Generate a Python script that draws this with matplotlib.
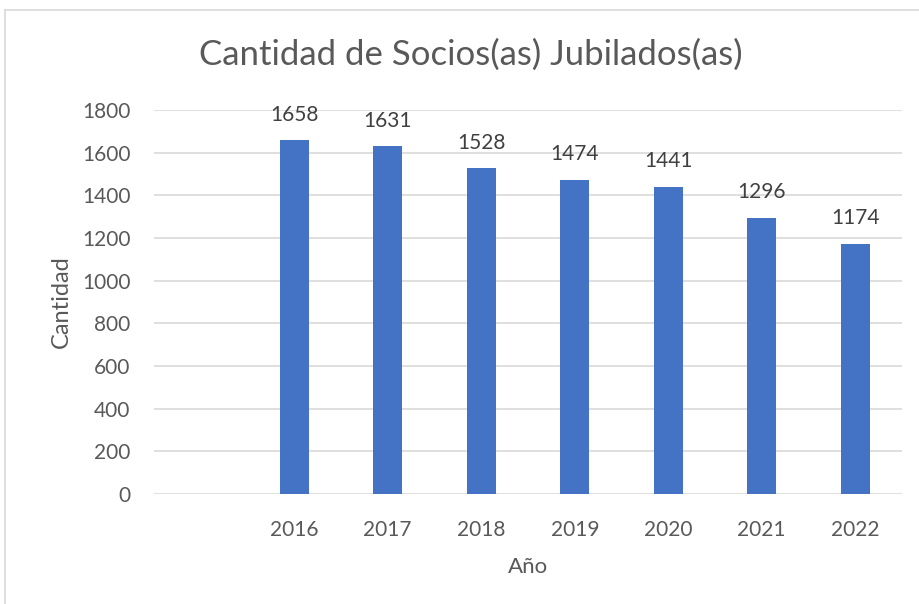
import numpy as np
import matplotlib.pyplot as plt
from matplotlib.lines import Line2D

# ---------------------------------- datos ----------------------------------
anios = ['', '2016', '2017', '2018', '2019', '2020', '2021', '2022']
socios = [None, 1658, 1631, 1528, 1474, 1441, 1296, 1174]
yticks = [0, 200, 400, 600, 800, 1000, 1200, 1400, 1600, 1800]

azul = '#4472C4'
gris = '#595959'
plt.rcParams['font.family'] = ['Lato', 'DejaVu Sans']

fig = plt.figure(figsize=(9.19, 6.04), dpi=100)
ax = fig.add_axes([154/919, 1-494/604, 748/919, 384/604])

x = np.arange(len(anios))
h = [0 if v is None else v for v in socios]
barras = ax.bar(x, h, width=0.31, color=azul, zorder=3)
for xi, v in zip(x, socios):
    if v is not None:
        ax.annotate(str(v), (xi, v), xytext=(0, 11), textcoords='offset points',
                    ha='center', va='bottom', fontsize=15, color='#404040')

ax.set_xlim(-0.5, len(anios)-0.5)
ax.set_ylim(0, 1800)
ax.set_yticks(yticks)
ax.set_xticks(x)
ax.set_xticklabels(anios)
ax.tick_params(axis='both', length=0, labelsize=15, labelcolor=gris)
ax.tick_params(axis='x', pad=19)
ax.tick_params(axis='y', pad=17)
ax.grid(axis='y', color='#D9D9D9', lw=1.2, zorder=0)
for s in ax.spines.values():
    s.set_visible(False)

ax.set_xlabel('Año', fontsize=16, color=gris, labelpad=12)
ax.set_ylabel('Cantidad', fontsize=17, color=gris, labelpad=7)
fig.text(0.512, 1-55/604, 'Cantidad de Socios(as) Jubilados(as)', ha='center', va='center',
         fontsize=25, color=gris)

# marco del grafico
fig.add_artist(Line2D([5/919, 5/919], [0, 1-10/604], color='#D9D9D9', lw=1.2))
fig.add_artist(Line2D([5/919, 1], [1-10/604, 1-10/604], color='#D9D9D9', lw=1.2))

plt.savefig('out.png', dpi=100)
